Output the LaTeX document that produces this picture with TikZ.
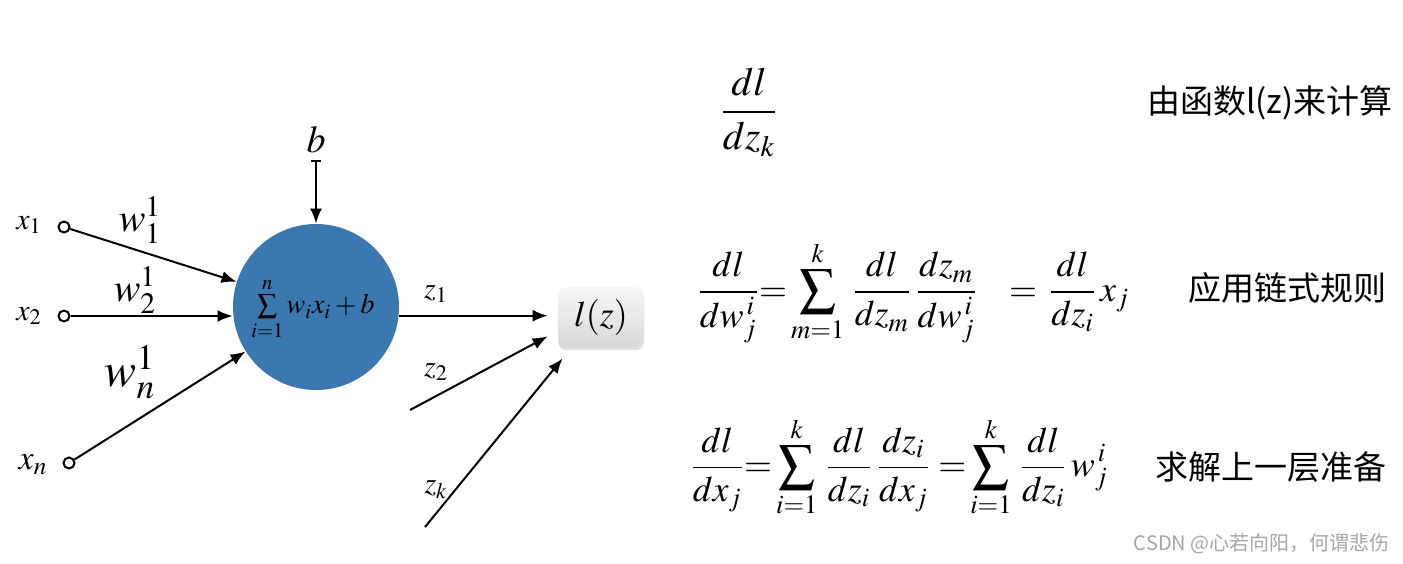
\documentclass[tikz,border=0pt]{standalone}
\usepackage{mathptmx}
\usepackage{fontspec}
\setmainfont{Liberation Serif}
\newfontfamily\cjkfont{Noto Sans CJK SC}
\usetikzlibrary{arrows.meta,shadows}
\definecolor{neuron}{RGB}{60,120,176}
\begin{document}
\begin{tikzpicture}[x=0.5pt,y=-0.5pt,
  arr/.style={line width=1pt,-{Latex[length=7.5pt,width=6pt]}},
  inp/.style={circle,draw,line width=1pt,minimum size=5.5pt,inner sep=0pt,fill=white},
  lbl/.style={inner sep=0pt},
  cjk/.style={font=\cjkfont\fontsize{16.5}{19}\selectfont,inner sep=0pt,anchor=east},
  eq/.style={font=\fontsize{18}{22}\selectfont,inner sep=0pt}]
\useasboundingbox (0,0) rectangle (1403,563);
% neuron
\node[circle,fill=neuron,minimum size=83pt,inner sep=0pt] (n) at (316,307) {};
\node[lbl,font=\fontsize{14}{16}\selectfont] (sum) at (313,309) {$\textstyle\sum\limits_{i=1}^{n} w_i x_i + b$};
% bias
\node[lbl,font=\fontsize{19}{22}\selectfont] (b) at (316,140) {$b$};
\draw[line width=1pt,{Bar[width=5pt]}-{Latex[length=7.5pt,width=6pt]}] ([yshift=-3pt]b.south) -- (n);
% inputs
\node[inp] (i1) at (64,227) {};
\node[inp] (i2) at (64,316) {};
\node[inp] (in) at (69,463) {};
\node[lbl,font=\fontsize{15}{17}\selectfont] (x1) at (29,225) {$x_1$};
\node[lbl,font=\fontsize{15}{17}\selectfont] (x2) at (29,316) {$x_2$};
\node[lbl,font=\fontsize{17}{19}\selectfont] (xn) at (33,465) {$x_n$};
\draw[arr] (i1) -- (n);
\draw[arr] (i2) -- (n.west |- i2);
\draw[arr] (in) -- (n);
\node[lbl,font=\fontsize{20}{22}\selectfont] (w1) at (140,220) {$w_1^1$};
\node[lbl,font=\fontsize{20}{22}\selectfont] (w2) at (135,290) {$w_2^1$};
\node[lbl,font=\fontsize{24}{26}\selectfont] (wn) at (130,372) {$w_n^1$};
% loss box
\node[draw=none,rounded corners=4pt,top color=gray!6,bottom color=gray!30,
      minimum width=43pt,minimum height=30pt,inner sep=0pt,
      drop shadow={opacity=0.25,shadow xshift=0pt,shadow yshift=-1.5pt},
      font=\fontsize{18}{20}\selectfont] (lz) at (601,317) {$l(z)$};
\coordinate (z2s) at (410,410);
\coordinate (zks) at (425,527);
\draw[arr] (n.-6) -- ([xshift=-5pt]n.-6 -| lz.west);
\draw[arr] (z2s) -- ([xshift=-5pt,yshift=5.5pt]lz.south west);
\draw[arr] (zks) -- ([xshift=2.5pt,yshift=-5.5pt]lz.south west);
\node[lbl,font=\fontsize{15}{17}\selectfont] (z1) at (436,294) {$z_1$};
\node[lbl,font=\fontsize{15}{17}\selectfont] (z2) at (436,372) {$z_2$};
\node[lbl,font=\fontsize{15}{17}\selectfont] (zk) at (436,490) {$z_k$};
% equations
\node[eq,font=\fontsize{20}{24}\selectfont] (e1) at (749,112) {$\displaystyle\frac{dl}{dz_k}$};
\node[eq,anchor=west] (e2) at (697,292) {$\displaystyle\frac{dl}{dw_j^{\,i}}{=}\sum_{m=1}^{k}\,\frac{dl}{dz_m}\,\frac{dz_m}{dw_j^{\,i}}\;\;\;=\,\frac{dl}{dz_i}\,x_j$};
\node[eq,anchor=west] (e3) at (690,467) {$\displaystyle\frac{dl}{dx_j}{=}\sum_{i=1}^{k}\,\frac{dl}{dz_i}\,\frac{dz_i}{dx_j}\;{=}\sum_{i=1}^{k}\,\frac{dl}{dz_i}\,w_j^{\,i}$};
\node[cjk] (t1) at (1393,103) {由函数l(z)来计算};
\node[cjk] (t2) at (1387,288) {应用链式规则};
\node[cjk] (t3) at (1387,467) {求解上一层准备};
\node[cjk,font=\cjkfont\fontsize{10}{12}\selectfont,text=gray!70] (wm) at (1390,544) {CSDN @心若向阳，何谓悲伤};
\end{tikzpicture}
\end{document}
